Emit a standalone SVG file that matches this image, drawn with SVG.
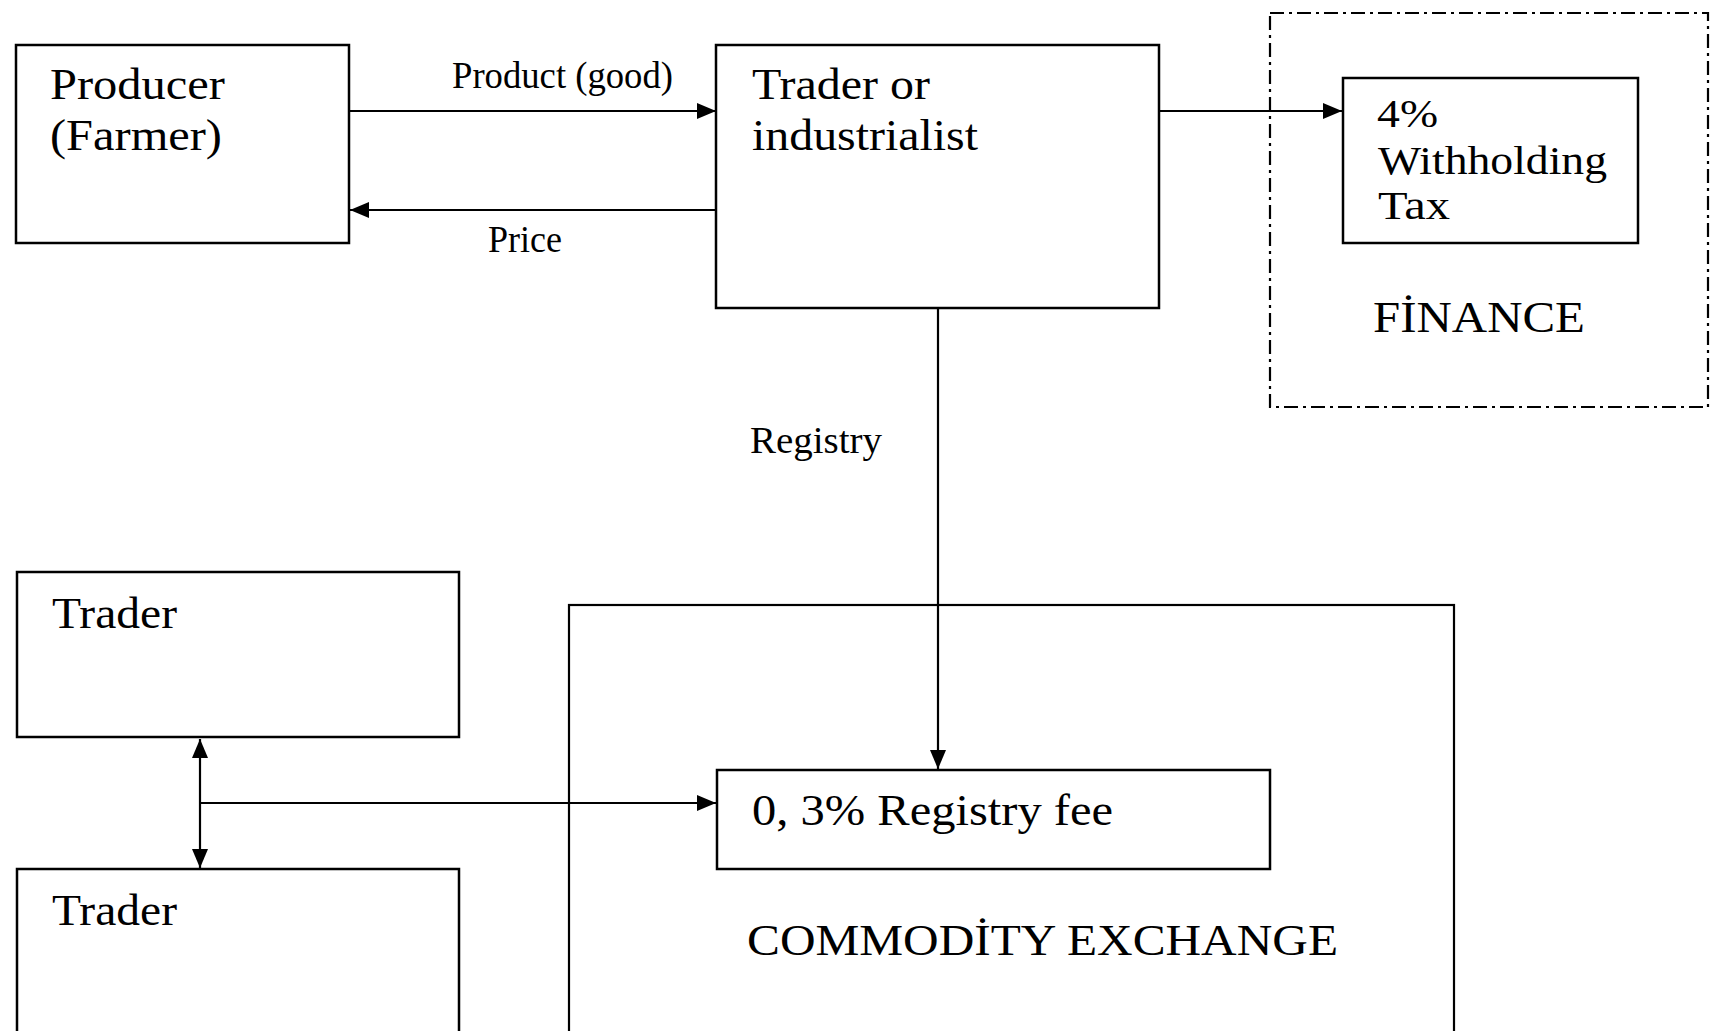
<svg xmlns="http://www.w3.org/2000/svg" width="1711" height="1031" viewBox="0 0 1711 1031">
<style>
.box{fill:none;stroke:#000;stroke-width:2.5}
.dash{fill:none;stroke:#000;stroke-width:2.2;stroke-dasharray:14 5 3 5}
.ln{fill:none;stroke:#000;stroke-width:2.2}
.t{font-family:"Liberation Serif","Times New Roman",serif;fill:#000}
.big{font-size:44px}
.wt{font-size:39px}
.mid{font-size:38px}
</style>
<defs>
<marker id="ah" markerUnits="userSpaceOnUse" markerWidth="19" markerHeight="16" refX="19" refY="8" orient="auto">
<path d="M0,0 L19,8 L0,16 Z" fill="#000"/>
</marker>
<marker id="ahs" markerUnits="userSpaceOnUse" markerWidth="19" markerHeight="16" refX="0" refY="8" orient="auto">
<path d="M19,0 L0,8 L19,16 Z" fill="#000"/>
</marker>
</defs>
<rect width="1711" height="1031" fill="#fff"/>

<g id="finance">
<rect class="dash" x="1270" y="13" width="438" height="394"/>
<text class="t big" x="1373" y="332" textLength="212" lengthAdjust="spacingAndGlyphs">FİNANCE</text>
</g>
<g id="commodity-exchange">
<rect class="ln" x="569" y="605" width="885" height="440"/>
<text class="t big" x="747" y="955" textLength="591" lengthAdjust="spacingAndGlyphs">COMMODİTY EXCHANGE</text>
</g>

<g id="producer">
<rect class="box" x="16" y="45" width="333" height="198"/>
<text class="t big" x="50" y="99" textLength="175" lengthAdjust="spacingAndGlyphs">Producer</text>
<text class="t big" x="50" y="150" textLength="172" lengthAdjust="spacingAndGlyphs">(Farmer)</text>
</g>
<g id="trader-industrialist">
<rect class="box" x="716" y="45" width="443" height="263"/>
<text class="t big" x="752" y="99" textLength="178" lengthAdjust="spacingAndGlyphs">Trader or</text>
<text class="t big" x="752" y="150" textLength="226" lengthAdjust="spacingAndGlyphs">industrialist</text>
</g>
<g id="withholding-tax">
<rect class="box" x="1343" y="78" width="295" height="165"/>
<text class="t wt" x="1377" y="127" textLength="61" lengthAdjust="spacingAndGlyphs">4%</text>
<text class="t wt" x="1378" y="174" textLength="229" lengthAdjust="spacingAndGlyphs">Withholding</text>
<text class="t wt" x="1378" y="219" textLength="72" lengthAdjust="spacingAndGlyphs">Tax</text>
</g>
<g id="trader-1">
<rect class="box" x="17" y="572" width="442" height="165"/>
<text class="t big" x="52" y="628" textLength="125" lengthAdjust="spacingAndGlyphs">Trader</text>
</g>
<g id="trader-2">
<rect class="box" x="17" y="869" width="442" height="180"/>
<text class="t big" x="52" y="925" textLength="125" lengthAdjust="spacingAndGlyphs">Trader</text>
</g>
<g id="registry-fee">
<rect class="box" x="717" y="770" width="553" height="99"/>
<text class="t big" x="752" y="825" textLength="361" lengthAdjust="spacingAndGlyphs">0, 3% Registry fee</text>
</g>

<g id="connectors">
<line class="ln" x1="350" y1="111" x2="716" y2="111" marker-end="url(#ah)"/>
<line class="ln" x1="716" y1="210" x2="350" y2="210" marker-end="url(#ah)"/>
<line class="ln" x1="1160" y1="111" x2="1342" y2="111" marker-end="url(#ah)"/>
<line class="ln" x1="938" y1="309" x2="938" y2="769" marker-end="url(#ah)"/>
<line class="ln" x1="200" y1="739" x2="200" y2="868" marker-start="url(#ahs)" marker-end="url(#ah)"/>
<line class="ln" x1="200" y1="803" x2="716" y2="803" marker-end="url(#ah)"/>
<text class="t mid" x="452" y="88" textLength="221" lengthAdjust="spacingAndGlyphs">Product (good)</text>
<text class="t mid" x="488" y="252" textLength="74" lengthAdjust="spacingAndGlyphs">Price</text>
<text class="t mid" x="750" y="453" textLength="132" lengthAdjust="spacingAndGlyphs">Registry</text>
</g>
</svg>
